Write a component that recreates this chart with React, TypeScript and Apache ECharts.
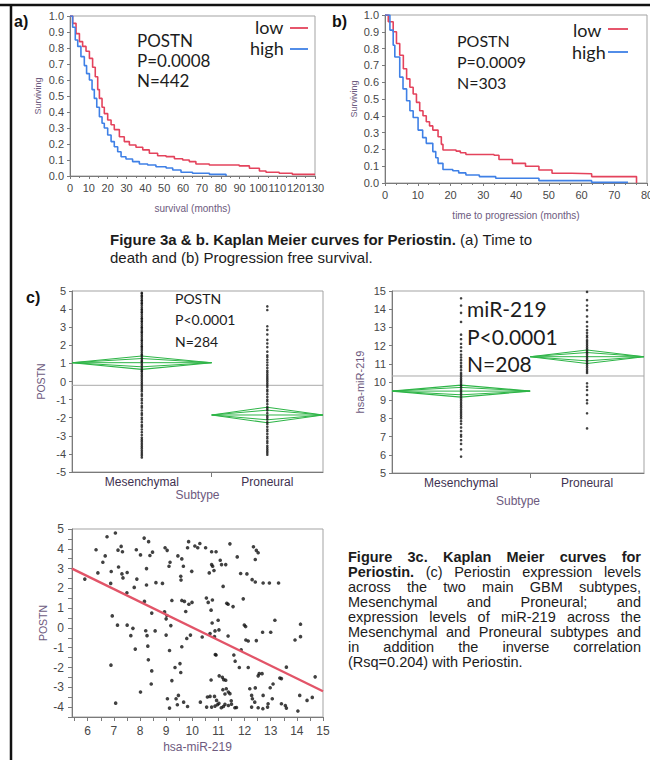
import React, { useEffect, useRef } from "react";
import * as echarts from "echarts";

// ---------- DATA ----------
// Kaplan-Meier (a): overall survival, months vs surviving fraction
const survLowA: [number, number][] = [[0,1],[1.4,0.954],[3.2,0.89],[5.0,0.84],[6.7,0.81],[8.5,0.78],[10.3,0.735],[12,0.68],[13.4,0.62],[14.7,0.54],[15.6,0.485],[17,0.43],[18.2,0.39],[20,0.35],[21.8,0.32],[23.5,0.29],[26.2,0.245],[28.8,0.215],[31.5,0.194],[35,0.18],[38.6,0.163],[42.1,0.142],[46.5,0.127],[51,0.121],[55.4,0.108],[59.8,0.1],[63.3,0.09],[66.8,0.075],[73.9,0.069],[82.8,0.069],[89.8,0.063],[95.2,0.048],[100.5,0.031],[104,0.023],[111,0.017],[118,0.01],[130,0.01]];
const survHighA: [number, number][] = [[0,1],[1.4,0.93],[2.8,0.85],[4.1,0.81],[5.8,0.746],[7.6,0.69],[8.8,0.64],[10.3,0.6],[11.7,0.54],[12.9,0.485],[14.2,0.43],[15.6,0.37],[17,0.33],[18.2,0.3],[20,0.256],[21.8,0.215],[23.5,0.183],[25.3,0.152],[27.1,0.12],[29.7,0.106],[33.2,0.09],[36.8,0.075],[41.2,0.069],[45.6,0.058],[51,0.05],[54.5,0.0375],[58.9,0.023],[65,0.017],[74,0.01],[82.8,0.0]];
// Kaplan-Meier (b): progression free survival
const survLowB: [number, number][] = [[0,1],[1.0,0.96],[2.5,0.9],[3.5,0.83],[4.5,0.76],[5.6,0.68],[6.6,0.62],[7.6,0.57],[8.6,0.53],[9.6,0.48],[10.6,0.43],[11.6,0.4],[12.6,0.365],[13.6,0.34],[14.6,0.315],[16.2,0.275],[17.2,0.23],[17.7,0.196],[21.7,0.19],[23,0.18],[24.7,0.17],[33.3,0.165],[34.8,0.14],[38.9,0.117],[42.9,0.1],[47,0.077],[51,0.058],[57,0.055],[63.1,0.038],[76.8,0.0]];
const survHighB: [number, number][] = [[0,1],[1.5,0.91],[2.5,0.82],[3.0,0.75],[4.5,0.63],[5.5,0.56],[6.6,0.49],[7.6,0.43],[8.6,0.39],[10.1,0.315],[11.5,0.27],[12.6,0.236],[14.6,0.187],[15.5,0.15],[16.2,0.117],[17.7,0.08],[20.7,0.073],[22.5,0.06],[24.7,0.048],[28.8,0.038],[33.8,0.028],[47,0.014],[63.1,0.004],[74.2,0.004]];

// Oneway: subtypes
const subtypes = ["Mesenchymal", "Proneural"];
const postnGroupN = [158, 126];
const postnMeans = [1.04, -1.85];
const postnCIHalf = [0.37, 0.43];
const postnGrandMean = -0.21;
const postnMes = [4.9,4.85,4.75,4.7,4.6,4.5,4.45,4.35,4.3,4.2,4.1,4.0,3.95,3.85,3.8,3.7,3.6,3.5,3.45,3.35,3.3,3.2,3.1,3.0,2.95,2.85,2.75,2.7,2.6,2.5,2.4,2.3,2.25,2.15,2.05,1.95,1.9,1.8,1.7,1.6,1.5,1.45,1.35,1.25,1.15,1.1,1.0,0.9,0.8,0.7,0.6,0.55,0.45,0.35,0.25,0.15,0.05,-0.05,-0.15,-0.25,-0.35,-0.45,-0.55,-0.7,-0.8,-0.95,-1.05,-1.2,-1.35,-1.45,-1.6,-1.75,-1.85,-2.0,-2.1,-2.25,-2.4,-2.5,-2.65,-2.8,-2.95,-3.1,-3.2,-3.3,-3.4,-3.5,-3.6,-3.7,-3.8,-3.9,-4.0,-4.1,-4.2];
const postnPro = [4.15,3.95,3.05,2.85,2.6,2.3,2.1,1.9,1.65,1.45,1.35,1.2,1.05,0.9,0.75,0.6,0.5,0.4,0.3,0.2,0.1,0.0,-0.1,-0.2,-0.3,-0.45,-0.55,-0.7,-0.85,-1.0,-1.1,-1.25,-1.4,-1.5,-1.6,-1.75,-1.9,-2.0,-2.1,-2.25,-2.35,-2.5,-2.65,-2.75,-2.9,-3.05,-3.15,-3.3,-3.4,-3.55,-3.65,-3.75,-3.85,-3.95,-4.05];
const mirGroupN = [114, 94];
const mirMeans = [9.5, 11.39];
const mirCIHalf = [0.33, 0.37];
const mirGrandMean = 10.33;
const mirMes = [14.6,14.2,13.8,13.3,12.6,12.35,12.1,11.9,11.7,11.5,11.35,11.2,11.05,10.9,10.8,10.65,10.5,10.4,10.3,10.2,10.1,10.0,9.9,9.8,9.7,9.6,9.5,9.4,9.3,9.2,9.1,9.0,8.9,8.8,8.7,8.6,8.5,8.4,8.3,8.2,8.1,8.0,7.85,7.7,7.5,7.3,7.1,7.0,6.8,6.6,6.3,5.9];
const mirPro = [14.95,14.5,14.2,13.95,13.6,13.3,13.05,12.85,12.7,12.55,12.45,12.3,12.2,12.1,12.0,11.9,11.8,11.7,11.6,11.5,11.4,11.3,11.2,11.1,11.0,10.9,10.8,10.7,10.6,10.5,9.93,9.74,9.56,9.29,9.0,8.83,8.28,7.45];

// Scatter: hsa-miR-219 (x) vs POSTN (y)
const scatterPoints: [number, number][] = [
[7.06,4.8],[6.74,4.61],[6.32,3.95],[6.67,3.64],[6.58,3.32],[6.39,2.78],[5.89,2.47],[6.9,2.85],[6.88,2.25],[7.18,3.08],[7.16,3.93],[7.28,4.12],[7.33,3.85],[7.31,2.73],[7.35,2.53],[7.51,2.8],[7.5,1.78],[6.94,0.61],[7.14,0.14],[6.89,-1.88],[7.07,-3.8],
[7.86,3.95],[8.02,3.69],[7.88,2.47],[7.78,2.05],[7.51,0.14],[7.73,-0.02],[7.65,-0.39],[7.82,-1.07],
[8.16,4.54],[8.33,4.36],[8.38,3.66],[8.48,3.83],[8.25,3.0],[8.25,2.17],[8.17,1.34],[8.45,0.75],[8.61,2.29],[8.86,2.25],[8.22,-0.14],[8.27,-0.39],[8.3,-0.92],[8.32,-1.61],[8.45,-2.17],[8.43,-2.83],[8.02,-3.24],[8.58,-0.15],
[8.96,4.05],[9.04,3.92],[9.15,3.32],[9.11,3.12],[9.22,1.39],[8.94,0.81],[9.03,0.63],[9.0,0.46],[9.18,0.12],[9.0,-0.36],[9.13,-1.14],[9.22,-2.66],[9.05,-3.58],[9.13,-4.05],[9.38,-3.58],[9.47,-3.41],[9.43,-3.88],
[9.45,3.64],[9.6,3.49],[9.66,3.12],[9.56,2.61],[9.57,2.42],[9.6,1.39],[9.75,0.83],[9.7,1.34],[9.79,-0.53],[9.6,-0.95],[9.53,-1.8],[9.34,-2.0],[9.56,-2.25],[9.67,-3.75],[9.82,-3.97],
[9.86,4.36],[9.82,4.05],[9.87,1.2],[9.99,1.29],[9.93,-0.36],[10.1,4.14],[10.21,4.05],[10.29,4.27],[9.98,2.86],
[10.51,4.05],[10.74,3.85],[10.91,3.85],[10.65,2.78],[10.74,3.2],[10.78,3.12],[10.83,2.9],[11.12,3.2],[11.07,3.42],[11.28,3.2],[11.44,4.25],[11.72,3.59],[11.85,2.75],[12.09,2.73],[11.18,2.1],
[10.54,1.51],[10.61,1.29],[10.77,1.41],[10.72,0.9],[10.76,0.25],[10.99,0.39],[11.32,1.25],[11.37,1.2],[11.56,1.08],[11.95,1.47],
[10.68,-0.28],[10.87,-0.15],[11.02,-0.1],[11.37,-0.41],[10.85,-0.44],[10.88,-1.34],[10.91,-1.37],[11.59,-1.37],[11.64,-1.68],[11.8,-2.0],[11.87,-1.1],
[10.72,-2.63],[11.03,-2.42],[11.15,-2.49],[11.2,-2.61],[11.28,-2.64],[11.3,-3.07],[11.25,-3.34],[11.38,-3.24],[11.44,-3.32],[11.17,-3.12],[11.49,-3.68],[11.5,-3.85],
[10.68,-3.46],[10.85,-3.46],[10.93,-3.66],[10.55,-4.0],[10.74,-4.0],[10.87,-3.95],[10.96,-3.88],[11.02,-3.81],[11.11,-4.03],[11.19,-3.97],[11.25,-3.86],[11.38,-3.92],[11.63,-4.03],[11.69,-4.02],[10.31,-3.75],[10.58,-3.49],[10.38,-0.46],
[12.34,4.1],[12.45,3.92],[12.52,3.8],[12.41,3.46],[12.29,2.44],[12.41,2.32],[12.71,2.27],[12.95,2.27],[13.3,2.27],
[11.99,0.15],[12.04,0.07],[12.05,-0.61],[12.14,-0.66],[12.45,-0.64],[12.69,-0.22],[13.0,-0.22],[13.16,0.39],
[13.6,-1.98],[13.41,-2.56],[13.35,-2.53],[13.09,-2.83],[12.98,-3.02],[12.71,-3.41],[12.56,-2.31],[12.67,-2.31],[12.52,-2.42],[12.14,-2.0],[12.2,-3.07],[12.27,-3.41],[12.3,-3.58],[12.39,-3.75],[12.27,-4.0],[12.52,-4.03],[12.7,-4.08],[12.9,-3.83],[13.06,-3.58],[12.88,-4.0],[13.41,-3.83],[13.56,-3.92],[13.6,-4.05],[14.04,-4.2],[14.11,-3.41],[14.14,0.19],[14.14,-0.44],[13.93,-0.61],[14.7,-2.47],[14.39,-3.66],[14.59,-3.51],[12.41,-3.03]
];
const fitIntercept = 6.49;
const fitSlope = -0.646;
const scatterXRange = [5.4, 15];
const scatterYRange = [-4.5, 5];
const scatterXLabels = [6, 7, 8, 9, 10, 11, 12, 13, 14, 15];
const scatterXTicks = [5.5, 6, 6.5, 7, 7.5, 8, 8.5, 9, 9.5, 10, 10.5, 11, 11.5, 12, 12.5, 13, 13.5, 14, 14.5, 15];
const scatterYLabels = [-4, -3, -2, -1, 0, 1, 2, 3, 4, 5];
const scatterYTicks = [-4.5, -4, -3.5, -3, -2.5, -2, -1.5, -1, -0.5, 0, 0.5, 1, 1.5, 2, 2.5, 3, 3.5, 4, 4.5, 5];

// Text
type Seg = { t: string; b: boolean };
const captionAB: Seg[][] = [
  [{ t: "Figure 3a & b. Kaplan Meier curves for Periostin.", b: true }, { t: "(a) Time to", b: false }],
  [{ t: "death and (b) Progression free survival.", b: false }],
];
const captionC: Seg[][] = [
  [{ t: "Figure 3c. Kaplan Meier curves for", b: true }],
  [{ t: "Periostin.", b: true }, { t: "(c) Periostin expression levels", b: false }],
  [{ t: "across the two main GBM subtypes,", b: false }],
  [{ t: "Mesenchymal and Proneural; and", b: false }],
  [{ t: "expression levels of miR-219 across the", b: false }],
  [{ t: "Mesenchymal and Proneural subtypes and", b: false }],
  [{ t: "in addition the inverse correlation", b: false }],
  [{ t: "(Rsq=0.204) with Periostin.", b: false }],
];

// ---------- STYLE ----------
const SANS = '"Liberation Sans", Arial, Helvetica, sans-serif';
const LATO = 'Lato, "Open Sans", sans-serif';
const RED = "#e4435c";
const BLUE = "#3f80e6";
const GREEN = "#2fb548";
const NAME_COLOR = "#6d5a7e";
const TICK_COLOR = "#474747";
const AXIS_COLOR = "#7a7a7a";
const TEXT_COLOR = "#1c1c1c";

let measureCtx: CanvasRenderingContext2D | null = null;
function textWidth(t: string, font: string): number {
  if (!measureCtx) measureCtx = document.createElement("canvas").getContext("2d");
  if (!measureCtx) return t.length * 7;
  measureCtx.font = font;
  return measureCtx.measureText(t).width;
}
const capFont = (bold: boolean, size: number) => `${bold ? "bold " : ""}${size}px ${SANS}`;

function lineElements(segs: Seg[], x: number, y: number, width: number | null, size: number): any[] {
  const words: Seg[] = [];
  segs.forEach((s) => s.t.split(" ").filter(Boolean).forEach((w) => words.push({ t: w, b: s.b })));
  const widths = words.map((w) => textWidth(w.t, capFont(w.b, size)));
  let gap = textWidth(" ", capFont(false, size));
  if (width != null && words.length > 1) {
    gap = (width - widths.reduce((a, b) => a + b, 0)) / (words.length - 1);
  }
  let cx = x;
  return words.map((w, i) => {
    const el = {
      type: "text",
      x: cx,
      y,
      style: { text: w.t, font: capFont(w.b, size), fill: TEXT_COLOR, textVerticalAlign: "middle", verticalAlign: "middle" },
    };
    cx += widths[i] + gap;
    return el;
  });
}

function label(text: string, x: number, y: number, font: string, fill = TEXT_COLOR): any {
  return { type: "text", x, y, style: { text, font, fill, textVerticalAlign: "middle", verticalAlign: "middle" } };
}
function hline(x1: number, x2: number, y: number, stroke: string, lineWidth: number): any {
  return { type: "line", shape: { x1, y1: y, x2, y2: y }, style: { stroke, lineWidth } };
}

const tickLabel = (size: number, extra: any = {}) => ({ fontSize: size, color: TICK_COLOR, fontFamily: SANS, ...extra });
const nameStyle = (size: number) => ({ fontSize: size, color: NAME_COLOR, fontFamily: SANS });
const axisLine = { show: true, onZero: false, lineStyle: { color: AXIS_COLOR, width: 1 } };

function kmSeries(name: string, data: [number, number][], idx: number, color: string): any {
  return {
    type: "line", name, xAxisIndex: idx, yAxisIndex: idx, data, step: "end",
    symbol: "none", showSymbol: false, silent: true, z: 3,
    lineStyle: { color, width: 1.6 }, itemStyle: { color },
  };
}
function polyLine(idx: number, data: number[][], color: string, width: number, z = 2): any {
  return {
    type: "line", xAxisIndex: idx, yAxisIndex: idx, data, symbol: "none", showSymbol: false,
    silent: true, z, lineStyle: { color, width }, itemStyle: { color },
  };
}
function diamonds(idx: number, ns: number[], means: number[], halves: number[]): any[] {
  const out: any[] = [];
  let start = 0;
  ns.forEach((n, i) => {
    const x0 = start, x1 = start + n, xc = start + n / 2, m = means[i], h = halves[i];
    out.push(polyLine(idx, [[x0, m], [xc, m + h], [x1, m], [xc, m - h], [x0, m]], GREEN, 1.1, 4));
    const hi = h * 0.62;
    out.push(polyLine(idx, [[x0, m], [xc, m + hi], [x1, m], [xc, m - hi], [x0, m]], GREEN, 1, 4));
    out.push(polyLine(idx, [[x0, m], [x1, m]], GREEN, 1, 4));
    start += n;
  });
  return out;
}
function strips(idx: number, ns: number[], groups: number[][]): any[] {
  let start = 0;
  return groups.map((vals, i) => {
    const xc = start + ns[i] / 2;
    start += ns[i];
    return {
      type: "scatter", xAxisIndex: idx, yAxisIndex: idx, symbolSize: 2.6, silent: true, z: 5,
      itemStyle: { color: "#111" }, data: vals.map((v) => [xc, v]),
    };
  });
}
function subtypeXAxis(idx: number, ns: number[], nameGap: number): any {
  const total = ns[0] + ns[1];
  return {
    gridIndex: idx, type: "value", min: 0, max: total,
    axisLine,
    axisTick: { show: true, customValues: [ns[0]], length: 5, lineStyle: { color: AXIS_COLOR } },
    axisLabel: {
      customValues: [ns[0] / 2, ns[0] + ns[1] / 2],
      formatter: (v: number) => (v < ns[0] ? subtypes[0] : subtypes[1]),
      ...tickLabel(12, { color: "#3e3150" }), margin: 4,
    },
    splitLine: { show: false },
    name: "Subtype", nameLocation: "middle", nameGap, nameTextStyle: nameStyle(12),
  };
}

function buildOption(): any {
  const grids = [
    { left: 70, top: 16, width: 245, height: 160 },
    { left: 385, top: 15, width: 262, height: 168 },
    { left: 72, top: 291, width: 251, height: 181 },
    { left: 392, top: 291, width: 252, height: 182 },
    { left: 72, top: 529, width: 251, height: 188 },
  ].map((g) => ({ ...g, show: true, borderColor: "#a3a3a3", borderWidth: 1, containLabel: false, outerBoundsMode: "none" }));

  const survYAxis = (idx: number, gap: number) => ({
    gridIndex: idx, type: "value", min: 0, max: 1, interval: 0.1,
    axisLine, axisTick: { show: true, length: 3, lineStyle: { color: AXIS_COLOR } },
    axisLabel: { ...tickLabel(11), margin: 6, formatter: (v: number) => v.toFixed(1) },
    splitLine: { show: false },
    name: "Surviving", nameLocation: "middle", nameGap: gap, nameTextStyle: nameStyle(9),
  });

  const xAxis = [
    {
      gridIndex: 0, type: "value", min: 0, max: 130, interval: 10,
      axisLine, axisTick: { show: true, length: 3, lineStyle: { color: AXIS_COLOR } },
      minorTick: { show: true, splitNumber: 2, length: 2, lineStyle: { color: AXIS_COLOR } },
      axisLabel: { ...tickLabel(11), margin: 6 }, splitLine: { show: false },
      name: "survival (months)", nameLocation: "middle", nameGap: 27, nameTextStyle: nameStyle(10),
    },
    {
      gridIndex: 1, type: "value", min: 0, max: 80, interval: 10,
      axisLine, axisTick: { show: true, length: 3, lineStyle: { color: AXIS_COLOR } },
      minorTick: { show: true, splitNumber: 3, length: 2, lineStyle: { color: AXIS_COLOR } },
      axisLabel: { ...tickLabel(11), margin: 6 }, splitLine: { show: false },
      name: "time to progression (months)", nameLocation: "middle", nameGap: 27, nameTextStyle: nameStyle(10),
    },
    subtypeXAxis(2, postnGroupN, 14),
    subtypeXAxis(3, mirGroupN, 22),
    {
      gridIndex: 4, type: "value", min: scatterXRange[0], max: scatterXRange[1],
      axisLine,
      axisTick: { show: true, customValues: scatterXTicks, length: 4, lineStyle: { color: AXIS_COLOR } },
      axisLabel: { customValues: scatterXLabels, ...tickLabel(12), margin: 8 },
      splitLine: { show: false },
      name: "hsa-miR-219", nameLocation: "middle", nameGap: 24, nameTextStyle: nameStyle(12),
    },
  ];
  const yAxis = [
    survYAxis(0, 28),
    survYAxis(1, 27),
    {
      gridIndex: 2, type: "value", min: -5, max: 5, interval: 1,
      axisLine, axisTick: { show: true, length: 3, lineStyle: { color: AXIS_COLOR } },
      axisLabel: { ...tickLabel(11), margin: 6 }, splitLine: { show: false },
      name: "POSTN", nameLocation: "middle", nameGap: 26, nameTextStyle: nameStyle(10.5),
    },
    {
      gridIndex: 3, type: "value", min: 5, max: 15, interval: 1,
      axisLine, axisTick: { show: true, length: 3, lineStyle: { color: AXIS_COLOR } },
      axisLabel: { ...tickLabel(11), margin: 6 }, splitLine: { show: false },
      name: "hsa-miR-219", nameLocation: "middle", nameGap: 27, nameTextStyle: nameStyle(11),
    },
    {
      gridIndex: 4, type: "value", min: scatterYRange[0], max: scatterYRange[1],
      axisLine,
      axisTick: { show: true, customValues: scatterYTicks, length: 4, lineStyle: { color: AXIS_COLOR } },
      axisLabel: { customValues: scatterYLabels, ...tickLabel(12), margin: 8 },
      splitLine: { show: false },
      name: "POSTN", nameLocation: "middle", nameGap: 24, nameTextStyle: nameStyle(10.5),
    },
  ];

  const postnTotal = postnGroupN[0] + postnGroupN[1];
  const mirTotal = mirGroupN[0] + mirGroupN[1];
  const series: any[] = [
    kmSeries("low", survLowA, 0, RED),
    kmSeries("high", survHighA, 0, BLUE),
    kmSeries("low", survLowB, 1, RED),
    kmSeries("high", survHighB, 1, BLUE),
    polyLine(2, [[0, postnGrandMean], [postnTotal, postnGrandMean]], "#a9a9a9", 1, 1),
    ...diamonds(2, postnGroupN, postnMeans, postnCIHalf),
    ...strips(2, postnGroupN, [postnMes, postnPro]),
    polyLine(3, [[0, mirGrandMean], [mirTotal, mirGrandMean]], "#a9a9a9", 1, 1),
    ...diamonds(3, mirGroupN, mirMeans, mirCIHalf),
    ...strips(3, mirGroupN, [mirMes, mirPro]),
    {
      type: "scatter", xAxisIndex: 4, yAxisIndex: 4, symbolSize: 3.6, silent: true, z: 4,
      itemStyle: { color: "#111" }, data: scatterPoints,
    },
    polyLine(4, scatterXRange.map((x) => [x, fitIntercept + fitSlope * x]), "#e25468", 2.4, 5),
  ];

  const big = (s: number) => `${s}px ${LATO}`;
  const graphic: any[] = [
    hline(0, 650, 5, "#111", 2.5),
    { type: "line", shape: { x1: 11, y1: 4, x2: 11, y2: 760 }, style: { stroke: "#111", lineWidth: 2.5 } },
    label("a)", 14, 21, `bold 16px ${SANS}`, "#111"),
    label("b)", 332, 21, `bold 16px ${SANS}`, "#111"),
    label("c)", 26, 297, `bold 16px ${SANS}`, "#111"),
    // panel a annotation
    label("POSTN", 137, 40, big(17)),
    label("P=0.0008", 137, 60, big(17)),
    label("N=442", 137, 80, big(17)),
    label("low", 255, 27, big(18)),
    label("high", 250, 48, big(18)),
    hline(290, 308, 28, RED, 1.8),
    hline(290, 308, 49, BLUE, 1.8),
    // panel b annotation
    label("POSTN", 457, 40, big(16)),
    label("P=0.0009", 457, 61, big(16)),
    label("N=303", 457, 82, big(16)),
    label("low", 573, 30, big(18)),
    label("high", 572, 52, big(18)),
    hline(608, 628, 29, RED, 1.8),
    hline(608, 628, 52, BLUE, 1.8),
    // panel c annotations
    label("POSTN", 175, 298, big(14)),
    label("P<0.0001", 175, 319, big(14)),
    label("N=284", 175, 341, big(14)),
    label("miR-219", 467, 308, big(21)),
    label("P<0.0001", 467, 336, big(21)),
    label("N=208", 467, 363, big(21)),
  ];
  captionAB.forEach((segs, i) => graphic.push(...lineElements(segs, 110, 239 + i * 18, null, 15)));
  captionC.forEach((segs, i) => {
    const last = i === captionC.length - 1;
    graphic.push(...lineElements(segs, 348, 557 + i * 15, last ? null : 293, 14.5));
  });

  return {
    animation: false,
    backgroundColor: "#ffffff",
    textStyle: { fontFamily: SANS },
    grid: grids,
    xAxis,
    yAxis,
    series,
    graphic,
  };
}

export default function App() {
  const ref = useRef<HTMLDivElement>(null);
  useEffect(() => {
    if (!ref.current) return;
    const chart = echarts.init(ref.current, undefined, { renderer: "svg" });
    chart.setOption(buildOption());
    return () => chart.dispose();
  }, []);
  return (
    <div
      ref={ref}
      style={{ position: "absolute", left: 0, top: 0, width: 650, height: 760, background: "#fff" }}
    />
  );
}
